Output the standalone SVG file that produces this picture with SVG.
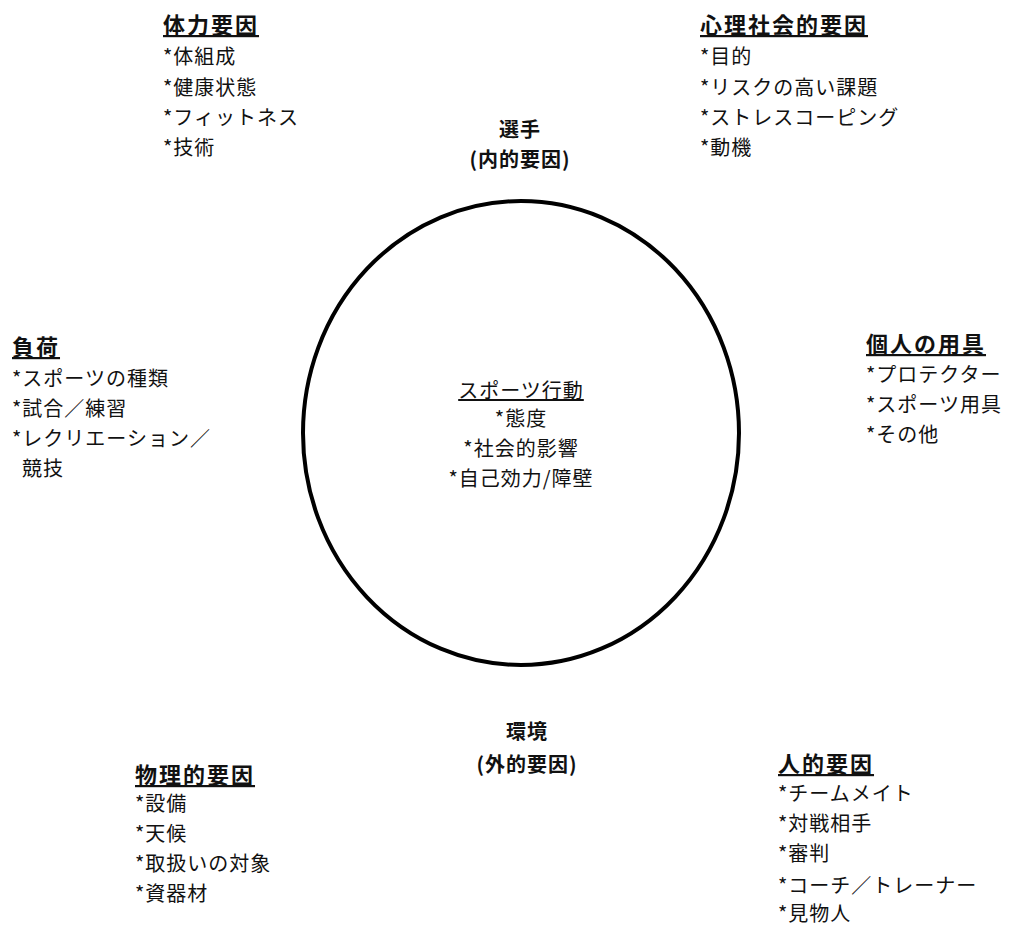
<svg xmlns="http://www.w3.org/2000/svg" width="1014" height="925" viewBox="0 0 1014 925">
<style>
text{font-family:"Noto Sans CJK JP","Noto Sans",sans-serif;font-size:20px;fill:#111;letter-spacing:1px}
.h{font-weight:bold;text-decoration:underline;font-size:22px;letter-spacing:2px}
.b{font-weight:bold}
.c{text-anchor:middle}
.u{text-decoration:underline}
</style>
<rect width="1014" height="925" fill="#fff"/>
<g id="connectors"></g>
<g id="circle"><ellipse cx="521" cy="433" rx="218" ry="232" fill="none" stroke="#000" stroke-width="4"/></g>
<g id="center">
<text class="c u" x="521" y="398">スポーツ行動</text>
<text class="c" x="521" y="426">*態度</text>
<text class="c" x="521" y="456">*社会的影響</text>
<text class="c" x="521" y="486">*自己効力/障壁</text>
</g>
<g id="player">
<text class="c b" x="520" y="137">選手</text>
<text class="c b" x="520" y="167">(内的要因)</text>
</g>
<g id="environment">
<text class="c b" x="527" y="739">環境</text>
<text class="c b" x="527" y="772">(外的要因)</text>
</g>
<g id="physical">
<text class="h" x="163" y="33">体力要因</text>
<text x="163" y="64">*体組成</text>
<text x="163" y="95">*健康状態</text>
<text x="163" y="125">*フィットネス</text>
<text x="163" y="155">*技術</text>
</g>
<g id="psycho">
<text class="h" x="700" y="33">心理社会的要因</text>
<text x="700" y="64">*目的</text>
<text x="700" y="95">*リスクの高い課題</text>
<text x="700" y="125">*ストレスコーピング</text>
<text x="700" y="155">*動機</text>
</g>
<g id="load">
<text class="h" x="12" y="355">負荷</text>
<text x="12" y="386">*スポーツの種類</text>
<text x="12" y="416">*試合／練習</text>
<text x="12" y="446">*レクリエーション／</text>
<text x="22" y="476">競技</text>
</g>
<g id="equipment">
<text class="h" x="866" y="352">個人の用具</text>
<text x="866" y="382">*プロテクター</text>
<text x="866" y="412">*スポーツ用具</text>
<text x="866" y="442">*その他</text>
</g>
<g id="physfactor">
<text class="h" x="135" y="783">物理的要因</text>
<text x="135" y="811">*設備</text>
<text x="135" y="841">*天候</text>
<text x="135" y="871">*取扱いの対象</text>
<text x="135" y="901">*資器材</text>
</g>
<g id="human">
<text class="h" x="778" y="772">人的要因</text>
<text x="778" y="801">*チームメイト</text>
<text x="778" y="831">*対戦相手</text>
<text x="778" y="861">*審判</text>
<text x="778" y="893">*コーチ／トレーナー</text>
<text x="778" y="921">*見物人</text>
</g>
</svg>
